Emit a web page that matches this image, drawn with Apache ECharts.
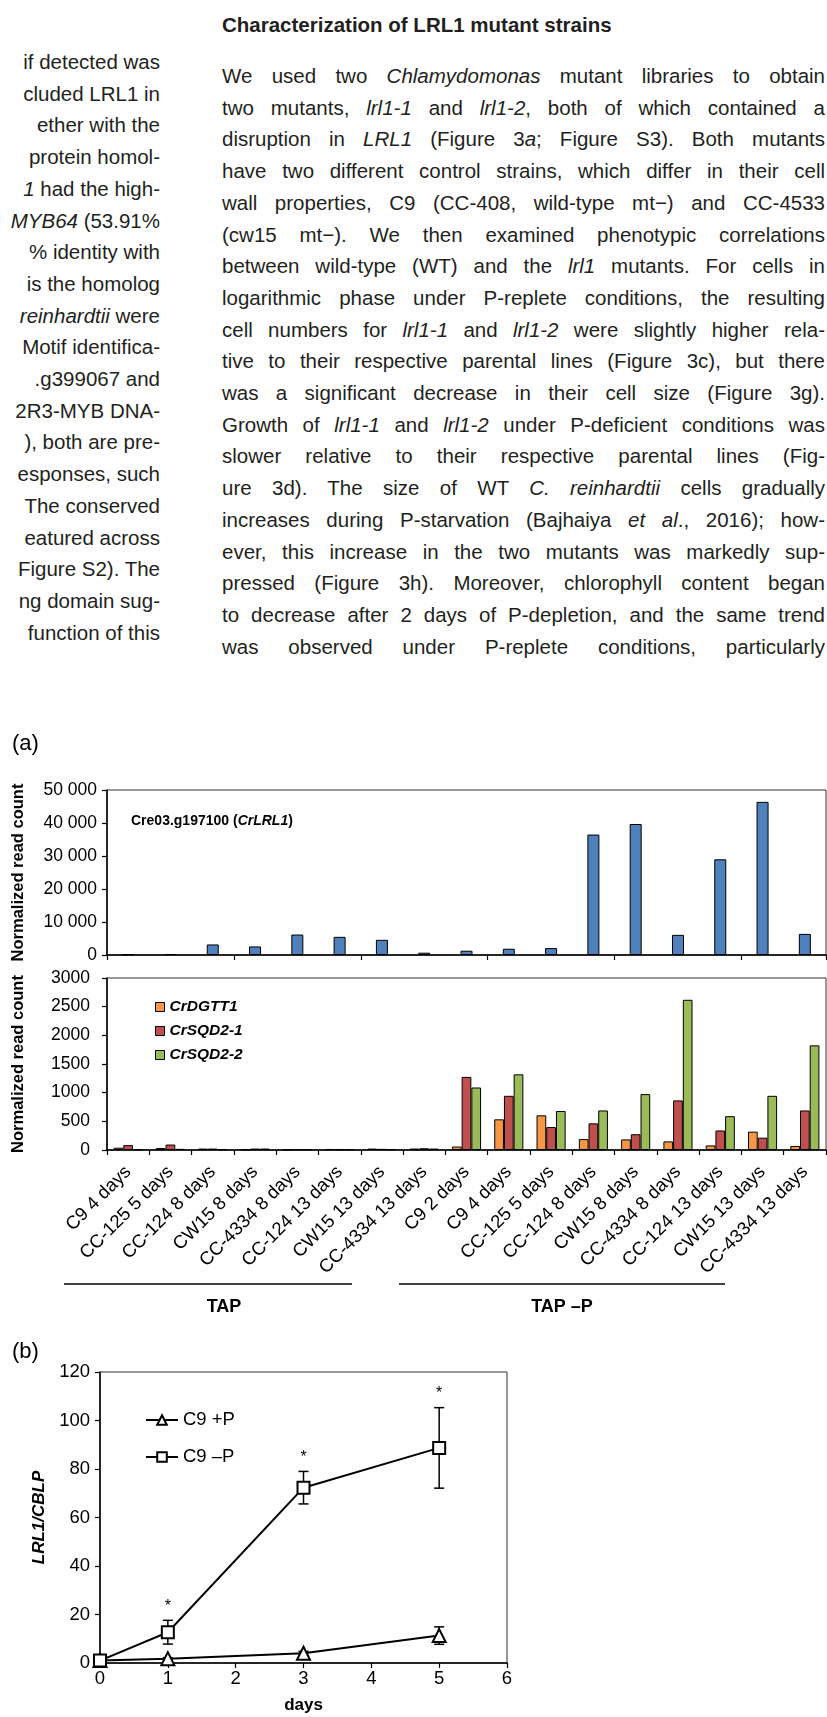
<!DOCTYPE html>
<html>
<head>
<meta charset="utf-8">
<script src="https://cdn.jsdelivr.net/npm/echarts@6/dist/echarts.min.js"></script>
<style>
  html, body { margin: 0; padding: 0; background: #fff; }
  body { width: 827px; height: 1717px; position: relative; overflow: hidden; font-family: 'Liberation Sans', Arial, sans-serif; color: #231f20; }
  .ln { position: absolute; height: 26px; line-height: 26px; font-size: 20.5px; white-space: nowrap; }
  .r { left: 222px; width: 603px; text-align: justify; text-align-last: justify; }
  .l { left: -440px; width: 600px; text-align: right; }
  .hd { position: absolute; left: 222px; top: 12px; font-size: 20.5px; font-weight: bold; white-space: nowrap; line-height: 26px; }
  #chart { position: absolute; left: 0; top: 0; width: 827px; height: 1717px; }
</style>
</head>
<body>
<div id="text"></div>
<div id="chart"></div>
<script>
// ---------- text ----------
const leftLines = [
  'if detected was', 'cluded LRL1 in', 'ether with the', 'protein homol-',
  '<i>1</i> had the high-', '<i>MYB64</i> (53.91%', '% identity with', 'is the homolog',
  '<i>reinhardtii</i> were', 'Motif identifica-', '.g399067 and', '2R3-MYB DNA-',
  '), both are pre-', 'esponses, such', 'The conserved', 'eatured across',
  'Figure S2). The', 'ng domain sug-', 'function of this'
];
const rightLines = [
  'We used two <i>Chlamydomonas</i> mutant libraries to obtain',
  'two mutants, <i>lrl1-1</i> and <i>lrl1-2</i>, both of which contained a',
  'disruption in <i>LRL1</i> (Figure 3<i>a</i>; Figure S3). Both mutants',
  'have two different control strains, which differ in their cell',
  'wall properties, C9 (CC-408, wild-type mt\u2212) and CC-4533',
  '(cw15 mt\u2212). We then examined phenotypic correlations',
  'between wild-type (WT) and the <i>lrl1</i> mutants. For cells in',
  'logarithmic phase under P-replete conditions, the resulting',
  'cell numbers for <i>lrl1-1</i> and <i>lrl1-2</i> were slightly higher rela-',
  'tive to their respective parental lines (Figure 3c), but there',
  'was a significant decrease in their cell size (Figure 3g).',
  'Growth of <i>lrl1-1</i> and <i>lrl1-2</i> under P-deficient conditions was',
  'slower relative to their respective parental lines (Fig-',
  'ure 3d). The size of WT <i>C. reinhardtii</i> cells gradually',
  'increases during P-starvation (Bajhaiya <i>et al</i>., 2016); how-',
  'ever, this increase in the two mutants was markedly sup-',
  'pressed (Figure 3h). Moreover, chlorophyll content began',
  'to decrease after 2 days of P-depletion, and the same trend',
  'was observed under P-replete conditions, particularly'
];
(function () {
  const t = document.getElementById('text');
  let html = '<div class="hd">Characterization of LRL1 mutant strains</div>';
  leftLines.forEach((s, i) => { html += '<div class="ln l" style="top:' + (62 + 31.7 * i - 13).toFixed(1) + 'px">' + s + '</div>'; });
  rightLines.forEach((s, i) => { html += '<div class="ln r" style="top:' + (76 + 31.7 * i - 13).toFixed(1) + 'px">' + s + '</div>'; });
  t.innerHTML = html;
})();

// ---------- data ----------
const categories = ['C9 4 days', 'CC-125 5 days', 'CC-124 8 days', 'CW15 8 days', 'CC-4334 8 days', 'CC-124 13 days',
  'CW15 13 days', 'CC-4334 13 days', 'C9 2 days', 'C9 4 days', 'CC-125 5 days', 'CC-124 8 days', 'CW15 8 days',
  'CC-4334 8 days', 'CC-124 13 days', 'CW15 13 days', 'CC-4334 13 days'];
const crLRL1 = [200, 300, 3200, 2600, 6200, 5500, 4600, 700, 1300, 1900, 2100, 36500, 39700, 6100, 29000, 46400, 6400];
const crDGTT1 = [40, 35, 25, 12, 8, 18, 25, 25, 60, 535, 605, 190, 185, 150, 80, 320, 70];
const crSQD2_1 = [85, 95, 25, 25, 15, 12, 20, 30, 1275, 945, 400, 465, 275, 865, 340, 215, 690];
const crSQD2_2 = [15, 20, 15, 25, 12, 12, 15, 25, 1090, 1320, 680, 690, 975, 2620, 590, 945, 1825];

const days = [0, 1, 3, 5];
const c9PlusP = [1.0, 1.8, 4.0, 11.3];
const c9PlusPErr = [0.3, 0.4, 0.8, 3.6];
const c9MinusP = [1.0, 12.7, 72.3, 88.7];
const c9MinusPErr = [0.4, 4.9, 6.7, 16.6];
const c9MinusPSig = [0, 1, 1, 1];

// ---------- chart ----------
const FONT = "'Liberation Sans', Arial, sans-serif";
const chart = echarts.init(document.getElementById('chart'), null, { renderer: 'canvas' });

function errItem(params, api) {
  const x = api.value(0), y = api.value(1), e = api.value(2), sig = api.value(3);
  const top = api.coord([x, y + e]);
  const bot = api.coord([x, y - e]);
  const cw = 5;
  const st = { stroke: '#000', lineWidth: 1.5 };
  const children = [
    { type: 'line', shape: { x1: top[0], y1: top[1], x2: bot[0], y2: bot[1] }, style: st },
    { type: 'line', shape: { x1: top[0] - cw, y1: top[1], x2: top[0] + cw, y2: top[1] }, style: st },
    { type: 'line', shape: { x1: bot[0] - cw, y1: bot[1], x2: bot[0] + cw, y2: bot[1] }, style: st }
  ];
  if (sig) {
    children.push({ type: 'text', style: { text: '*', x: top[0], y: top[1] - 6, align: 'center', verticalAlign: 'bottom', font: '16px ' + FONT, fill: '#000' } });
  }
  return { type: 'group', children };
}

const axisLineBold = { show: true, lineStyle: { color: '#000', width: 1.5 } };
const tickOut = { show: true, inside: false, length: 5, lineStyle: { color: '#000', width: 1.2 } };

const option = {
  animation: false,
  textStyle: { fontFamily: FONT },
  grid: [
    { left: 107, top: 790, width: 719, height: 165, show: true, borderColor: '#333', borderWidth: 1, backgroundColor: 'transparent' },
    { left: 107, top: 978, width: 719, height: 172, show: true, borderColor: '#333', borderWidth: 1, backgroundColor: 'transparent' },
    { left: 100, top: 1372, width: 407, height: 291, show: true, borderColor: '#333', borderWidth: 1, backgroundColor: 'transparent' }
  ],
  xAxis: [
    { gridIndex: 0, type: 'category', data: categories, axisLine: axisLineBold, axisTick: tickOut, axisLabel: { show: false } },
    { gridIndex: 1, type: 'category', data: categories, axisLine: axisLineBold, axisTick: tickOut,
      axisLabel: { rotate: 45, interval: 0, margin: 19, fontSize: 18.5, color: '#000', fontFamily: FONT } },
    { gridIndex: 2, type: 'value', min: 0, max: 6, interval: 1, splitLine: { show: false }, axisLine: axisLineBold, axisTick: tickOut,
      axisLabel: { fontSize: 18.5, color: '#000', margin: 6, fontFamily: FONT },
      name: 'days', nameLocation: 'middle', nameGap: 34, nameTextStyle: { fontSize: 17, fontWeight: 'bold', color: '#000', fontFamily: FONT } }
  ],
  yAxis: [
    { gridIndex: 0, type: 'value', min: 0, max: 50000, interval: 10000, splitLine: { show: false }, axisLine: axisLineBold, axisTick: tickOut,
      axisLabel: { fontSize: 17.5, color: '#000', margin: 10, fontFamily: FONT, formatter: v => v === 0 ? '0' : (v / 1000) + ' 000' },
      name: 'Normalized read count', nameLocation: 'middle', nameGap: 80, nameTextStyle: { fontSize: 16.5, fontWeight: 'bold', color: '#000', fontFamily: FONT } },
    { gridIndex: 1, type: 'value', min: 0, max: 3000, interval: 500, splitLine: { show: false }, axisLine: axisLineBold, axisTick: tickOut,
      axisLabel: { fontSize: 17.5, color: '#000', margin: 17, fontFamily: FONT, formatter: v => String(v) },
      name: 'Normalized read count', nameLocation: 'middle', nameGap: 80, nameTextStyle: { fontSize: 16.5, fontWeight: 'bold', color: '#000', fontFamily: FONT } },
    { gridIndex: 2, type: 'value', min: 0, max: 120, interval: 20, splitLine: { show: false }, axisLine: axisLineBold, axisTick: tickOut,
      axisLabel: { fontSize: 18.5, color: '#000', margin: 10, fontFamily: FONT, formatter: v => String(v) },
      name: 'LRL1/CBLP', nameLocation: 'middle', nameGap: 52, nameTextStyle: { fontSize: 17, fontWeight: 'bold', fontStyle: 'italic', color: '#000', fontFamily: FONT } }
  ],
  legend: [
    { data: ['CrDGTT1', 'CrSQD2-1', 'CrSQD2-2'], orient: 'vertical', left: 150, top: 994, icon: 'rect', itemWidth: 9, itemHeight: 9, itemGap: 8,
      itemStyle: { borderColor: '#000', borderWidth: 1 },
      textStyle: { fontSize: 15.5, fontWeight: 'bold', fontStyle: 'italic', color: '#000', lineHeight: 16, fontFamily: FONT } },
    { data: ['C9 +P', 'C9 \u2013P'], orient: 'vertical', left: 140, top: 1405, itemWidth: 32, itemHeight: 12, itemGap: 17,
      textStyle: { fontSize: 18.5, color: '#000', lineHeight: 20, fontFamily: FONT } }
  ],
  graphic: [
    { type: 'text', left: 12, top: 733, style: { text: '(a)', font: '22px ' + FONT, fill: '#000' } },
    { type: 'text', left: 12, top: 1341, style: { text: '(b)', font: '22px ' + FONT, fill: '#000' } },
    { type: 'text', left: 131, top: 814, style: { text: '{b|Cre03.g197100 (}{bi|CrLRL1}{b|)}',
      rich: { b: { font: 'bold 14px ' + FONT, fill: '#000' }, bi: { font: 'italic bold 14px ' + FONT, fill: '#000' } } } },
    { type: 'line', shape: { x1: 64, y1: 1284, x2: 352, y2: 1284 }, style: { stroke: '#000', lineWidth: 1.5 } },
    { type: 'line', shape: { x1: 399, y1: 1284, x2: 725, y2: 1284 }, style: { stroke: '#000', lineWidth: 1.5 } },
    { type: 'text', x: 224, y: 1307, style: { text: 'TAP', font: 'bold 18px ' + FONT, fill: '#000', align: 'center', verticalAlign: 'middle' } },
    { type: 'text', x: 562, y: 1307, style: { text: 'TAP \u2013P', font: 'bold 18px ' + FONT, fill: '#000', align: 'center', verticalAlign: 'middle' } }
  ],
  series: [
    { name: 'CrLRL1', type: 'bar', xAxisIndex: 0, yAxisIndex: 0, data: crLRL1, barWidth: 12,
      itemStyle: { color: '#4F81BD', borderColor: '#000', borderWidth: 1 } },
    { name: 'CrDGTT1', type: 'bar', xAxisIndex: 1, yAxisIndex: 1, data: crDGTT1, barWidth: 9.7, barGap: '0%',
      itemStyle: { color: '#F79646', borderColor: '#000', borderWidth: 1 } },
    { name: 'CrSQD2-1', type: 'bar', xAxisIndex: 1, yAxisIndex: 1, data: crSQD2_1, barWidth: 9.7, barGap: '0%',
      itemStyle: { color: '#C0504D', borderColor: '#000', borderWidth: 1 } },
    { name: 'CrSQD2-2', type: 'bar', xAxisIndex: 1, yAxisIndex: 1, data: crSQD2_2, barWidth: 9.7, barGap: '0%',
      itemStyle: { color: '#9BBB59', borderColor: '#000', borderWidth: 1 } },
    { name: 'errPlus', type: 'custom', xAxisIndex: 2, yAxisIndex: 2, z: 1, renderItem: errItem,
      data: days.map((d, i) => [d, c9PlusP[i], c9PlusPErr[i], 0]) },
    { name: 'errMinus', type: 'custom', xAxisIndex: 2, yAxisIndex: 2, z: 1, renderItem: errItem,
      data: days.map((d, i) => [d, c9MinusP[i], c9MinusPErr[i], c9MinusPSig[i]]) },
    { name: 'C9 +P', type: 'line', xAxisIndex: 2, yAxisIndex: 2, z: 3, data: days.map((d, i) => [d, c9PlusP[i]]),
      symbol: 'triangle', symbolSize: 13, lineStyle: { color: '#000', width: 2 },
      itemStyle: { color: '#fff', borderColor: '#000', borderWidth: 2 } },
    { name: 'C9 \u2013P', type: 'line', xAxisIndex: 2, yAxisIndex: 2, z: 3, data: days.map((d, i) => [d, c9MinusP[i]]),
      symbol: 'rect', symbolSize: 12, lineStyle: { color: '#000', width: 2 },
      itemStyle: { color: '#fff', borderColor: '#000', borderWidth: 2 } }
  ]
};
chart.setOption(option);
</script>
</body>
</html>
